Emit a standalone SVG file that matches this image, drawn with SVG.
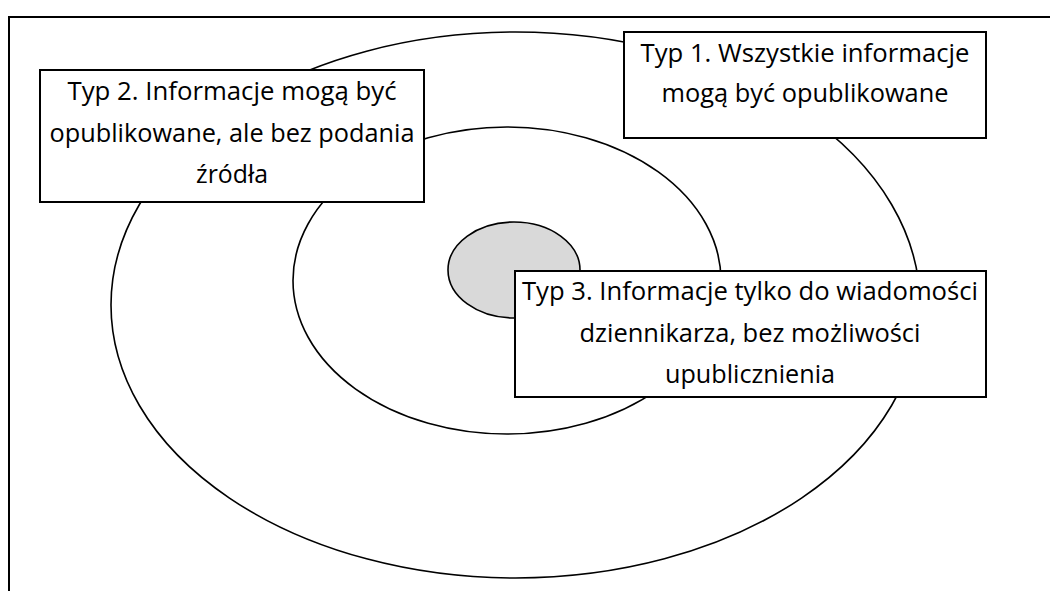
<svg xmlns="http://www.w3.org/2000/svg" width="1050" height="591" viewBox="0 0 1050 591">
<style>
.ring{fill:none;stroke:#000;stroke-width:1.6}
.box{fill:#fff;stroke:#000;stroke-width:2}
.t{font-family:"Open Sans",Lato,"Liberation Sans",sans-serif;font-size:25px;fill:#000;text-anchor:middle}
</style>
<rect x="0" y="0" width="1050" height="591" fill="#fff"/>
<rect x="9" y="17" width="1060" height="600" fill="none" stroke="#000" stroke-width="2"/>
<g id="rings">
<ellipse id="outer" class="ring" cx="515.5" cy="305" rx="404.5" ry="273"/>
<ellipse id="middle" class="ring" cx="507" cy="280.5" rx="214" ry="153.5"/>
<ellipse id="inner" cx="514" cy="270" rx="66" ry="48" fill="#d9d9d9" stroke="#000" stroke-width="1.6"/>
</g>
<g id="connectors"></g>
<g id="typ1">
<rect class="box" x="624" y="32" width="362" height="106"/>
<text class="t" x="805" y="62" textLength="329" lengthAdjust="spacingAndGlyphs">Typ 1. Wszystkie informacje</text>
<text class="t" x="805" y="102" textLength="287" lengthAdjust="spacingAndGlyphs">mogą być opublikowane</text>
</g>
<g id="typ2">
<rect class="box" x="40" y="70" width="384" height="132"/>
<text class="t" x="232" y="100" textLength="329" lengthAdjust="spacingAndGlyphs">Typ 2. Informacje mogą być</text>
<text class="t" x="232" y="141.5" textLength="365" lengthAdjust="spacingAndGlyphs">opublikowane, ale bez podania</text>
<text class="t" x="232" y="183" textLength="72" lengthAdjust="spacingAndGlyphs">źródła</text>
</g>
<g id="typ3">
<rect class="box" x="515" y="271" width="471" height="126"/>
<text class="t" x="750" y="300" textLength="456" lengthAdjust="spacingAndGlyphs">Typ 3. Informacje tylko do wiadomości</text>
<text class="t" x="750" y="341.5" textLength="341" lengthAdjust="spacingAndGlyphs">dziennikarza, bez możliwości</text>
<text class="t" x="750" y="383" textLength="170" lengthAdjust="spacingAndGlyphs">upublicznienia</text>
</g>
</svg>
